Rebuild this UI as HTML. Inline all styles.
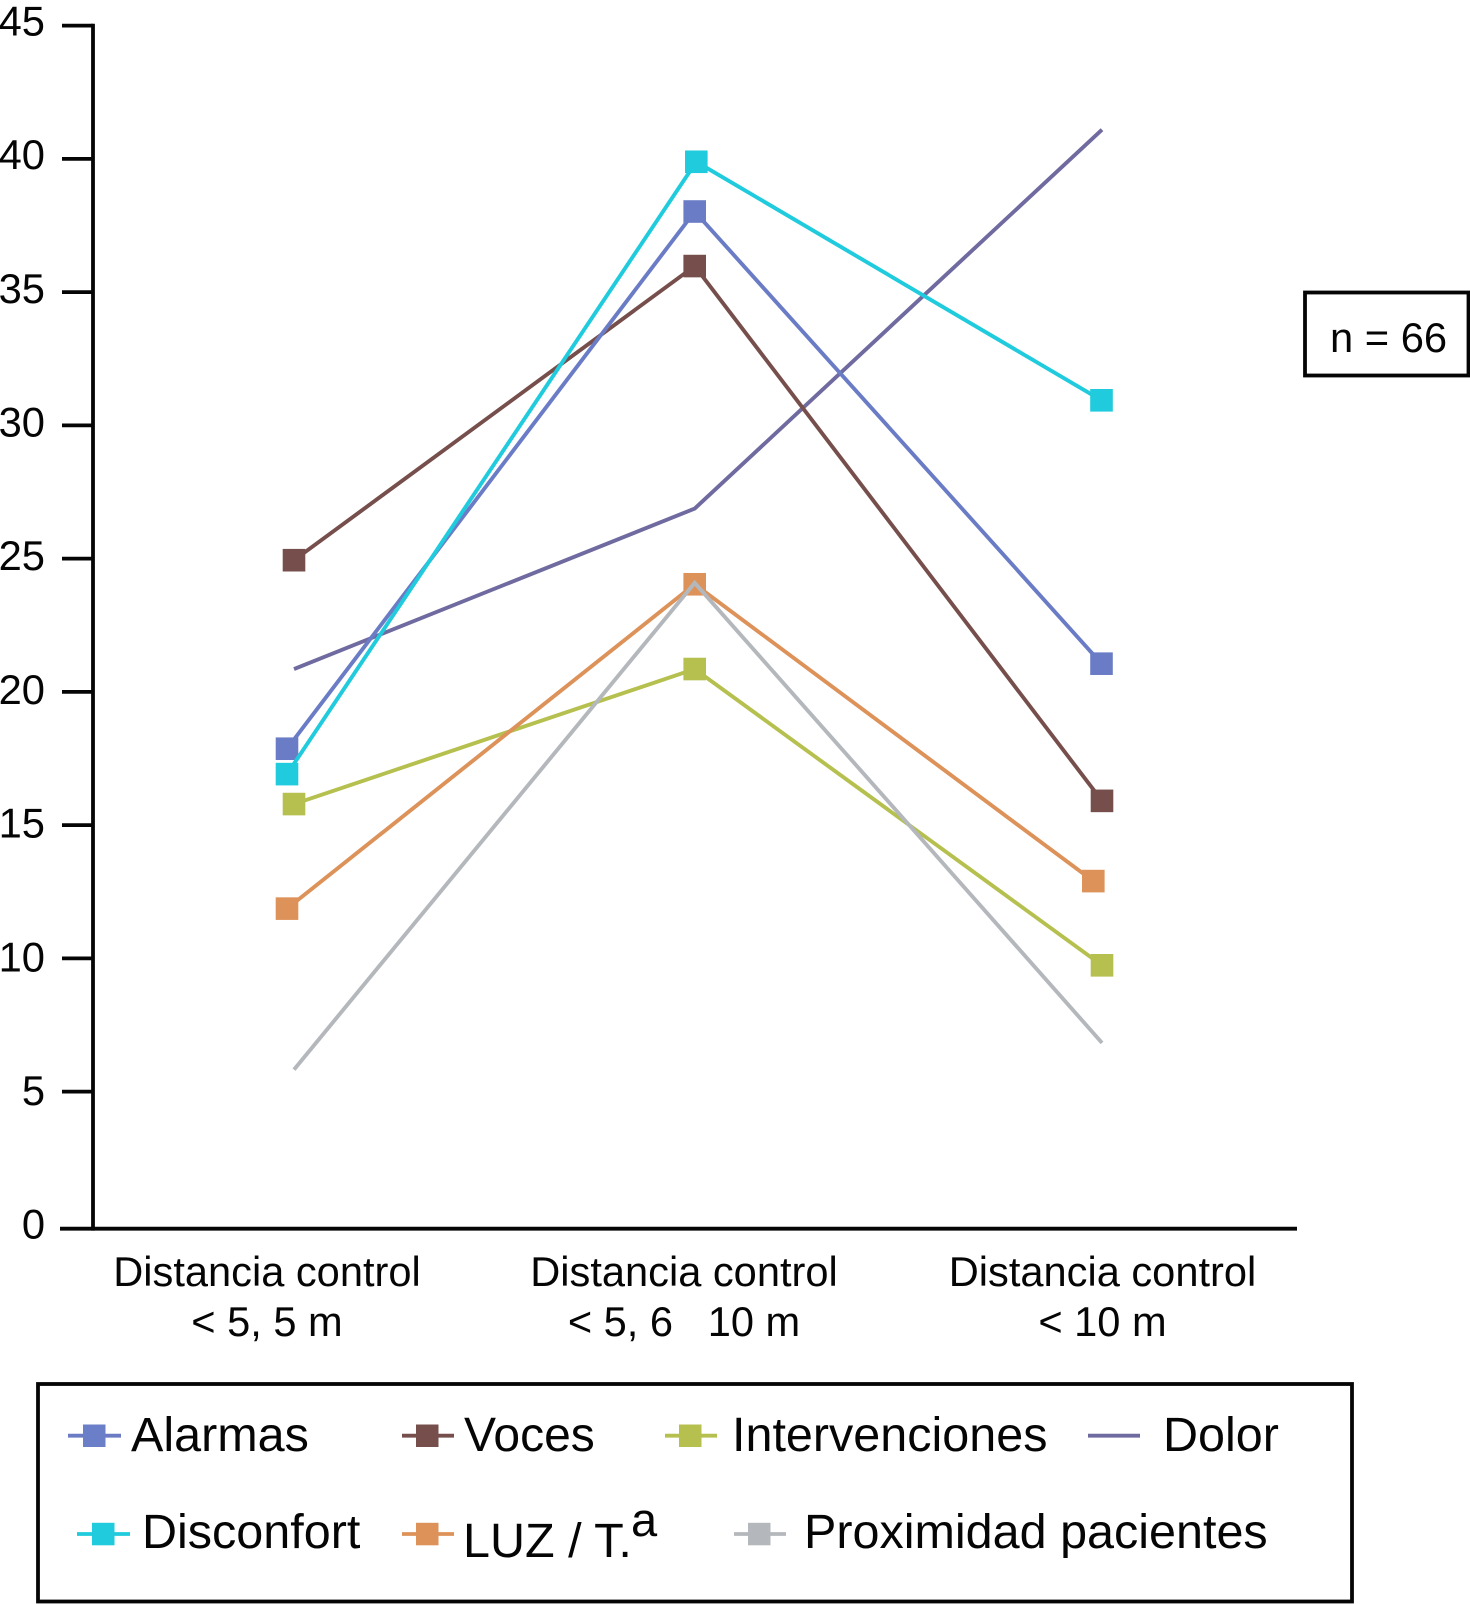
<!DOCTYPE html>
<html lang="es">
<head>
<meta charset="utf-8">
<title>Distancia control</title>
<style>
html,body{margin:0;padding:0;background:#fff;}
svg{display:block;font-family:"Liberation Sans",Arial,sans-serif;fill:#050505;}
text{white-space:pre;}
</style>
</head>
<body>
<svg id="chart" width="1470" height="1604" viewBox="0 0 1470 1604" xmlns="http://www.w3.org/2000/svg">
  <rect x="0" y="0" width="1470" height="1604" fill="#ffffff"/>
  <g id="y-axis"></g>
  <g id="x-axis"></g>
  <g id="series"></g>

  <g>
    <rect x="1305" y="292.5" width="163.5" height="83" fill="#fff" stroke="#050505" stroke-width="3.8"/>
    <text x="1330" y="352" font-size="41.7">n = 66</text>
  </g>

  <g>
    <rect x="38" y="1384" width="1314" height="217.5" fill="#fff" stroke="#050505" stroke-width="3.8"/>

    <g>
      <line x1="68" x2="121" y1="1435.7" y2="1435.7" stroke="#6b7cc4" stroke-width="3.8"/>
      <rect x="83" y="1424.5" width="22.5" height="22.5" fill="#6b7fc8"/>
      <text x="131" y="1451" font-size="48.5">Alarmas</text>
    </g>
    <g>
      <line x1="402" x2="454" y1="1435.7" y2="1435.7" stroke="#764f4c" stroke-width="3.8"/>
      <rect x="416" y="1424.5" width="22.5" height="22.5" fill="#764f4c"/>
      <text x="464" y="1451" font-size="48">Voces</text>
    </g>
    <g>
      <line x1="665" x2="717" y1="1435.7" y2="1435.7" stroke="#b5c04f" stroke-width="3.8"/>
      <rect x="679" y="1424.5" width="22.5" height="22.5" fill="#b5c04f"/>
      <text x="732" y="1451" font-size="48.5">Intervenciones</text>
    </g>
    <g>
      <line x1="1088" x2="1140" y1="1435.7" y2="1435.7" stroke="#6f6a9f" stroke-width="3.8"/>
      <text x="1163" y="1451" font-size="48.5">Dolor</text>
    </g>
    <g>
      <line x1="77" x2="130" y1="1534" y2="1534" stroke="#1fcbdc" stroke-width="3.8"/>
      <rect x="92" y="1522.8" width="22.5" height="22.5" fill="#1fcbdc"/>
      <text x="142" y="1548" font-size="48.5">Disconfort</text>
    </g>
    <g>
      <line x1="402" x2="454" y1="1534" y2="1534" stroke="#dd9259" stroke-width="3.8"/>
      <rect x="416" y="1522.8" width="22.5" height="22.5" fill="#dd9259"/>
      <text x="463" y="1557" font-size="48.5">LUZ / T.</text>
      <text x="631" y="1536" font-size="47">a</text>
    </g>
    <g>
      <line x1="734" x2="786" y1="1534" y2="1534" stroke="#b4b8bc" stroke-width="3.8"/>
      <rect x="748" y="1522.8" width="22.5" height="22.5" fill="#b4b8bc"/>
      <text x="804" y="1548" font-size="48.5">Proximidad pacientes</text>
    </g>
  </g>
</svg>
<script>
const categoryLine1 = ["Distancia control", "Distancia control", "Distancia control"];
const categoryLine2 = ["< 5, 5 m", "< 5, 6   10 m", "< 10 m"];
const yTickLabels = [0, 5, 10, 15, 20, 25, 30, 35, 40, 45];

const alarmas = [17.95, 38.04, 21.13];
const voces = [25.0, 36.0, 16.0];
const intervenciones = [15.88, 20.93, 9.85];
const dolor = [20.93, 26.93, 41.1];
const disconfort = [17.0, 39.9, 30.98];
const luz = [11.97, 24.1, 13.0];
const proximidad = [5.95, 24.15, 6.95];

const NS = "http://www.w3.org/2000/svg";
function yScale(v) { return 1228.7 - v * 26.74; }
function tickY(v) { return v === 0 ? yScale(0) : 1091.6 - (v - 5) * 26.65; }
function xScale(i) { return 294 + i * 404; }
function mk(tag, attrs, parent) {
  const el = document.createElementNS(NS, tag);
  for (const k in attrs) el.setAttribute(k, attrs[k]);
  parent.appendChild(el);
  return el;
}

/* y axis */
const yAxisG = document.getElementById("y-axis");
const yLine = mk("line", { x1: 93, x2: 93, y1: tickY(45) - 1.9, y2: tickY(0) + 1.9, stroke: "#050505", "stroke-width": 3.8 }, yAxisG);


yTickLabels.forEach(function (t) {
  const tick = mk("line", { x1: t === 0 ? 60 : 62, x2: 93, y1: tickY(t), y2: tickY(t), stroke: "#050505", "stroke-width": 3.8 }, yAxisG);
  
  
  const lab = mk("text", { x: 45, y: yScale(t) + 10, "font-size": 41.7, "text-anchor": "end" }, yAxisG);
  lab.textContent = String(t);
  
  
});

/* x axis */
const xAxisG = document.getElementById("x-axis");
const xLine = mk("line", { x1: 93, x2: 1297, y1: yScale(0), y2: yScale(0), stroke: "#050505", "stroke-width": 3.8 }, xAxisG);


categoryLine1.forEach(function (c, i) {
  const cx = xScale(i) + [-27, -14, 0.5][i];
  const t1 = mk("text", { x: cx, y: 1286, "font-size": 41.6, "text-anchor": "middle" }, xAxisG);
  t1.textContent = c;
  
  
  const t2 = mk("text", { x: cx, y: 1336, "font-size": 41.6, "text-anchor": "middle" }, xAxisG);
  t2.textContent = categoryLine2[i];
  
  
});

/* series */
const seriesG = document.getElementById("series");
function drawSeries(name, values, color, hasMarkers, nudge) {
  const g = mk("g", {}, seriesG);
  
  
  const pts = values.map(function (v, i) { return (xScale(i) + nudge[i]) + "," + yScale(v); }).join(" ");
  const line = mk("polyline", { points: pts, fill: "none", stroke: color, "stroke-width": 3.9, "stroke-linejoin": "miter" }, g);
  
  
  if (!hasMarkers) return;
  values.forEach(function (v, i) {
    const m = mk("rect", { x: xScale(i) + nudge[i] - 11.3, y: yScale(v) - 11.3, width: 22.6, height: 22.6, fill: color }, g);
    
    
  });
}
drawSeries("intervenciones", intervenciones, "#b5c04f", true, [0, -3.3, 0]);
drawSeries("dolor", dolor, "#6f6a9f", false, [0, -3.3, 0]);
drawSeries("voces", voces, "#764f4c", true, [0, -3.3, 0]);
drawSeries("alarmas", alarmas, "#6b7cc6", true, [-7, -3.3, -0.5]);
drawSeries("disconfort", disconfort, "#1fcbdc", true, [-7, -1.7, -0.5]);
drawSeries("luz", luz, "#dd9259", true, [-7, -3.3, -8.7]);
drawSeries("proximidad", proximidad, "#b4b8bc", false, [0, -3.3, 0]);
</script>
</body>
</html>
